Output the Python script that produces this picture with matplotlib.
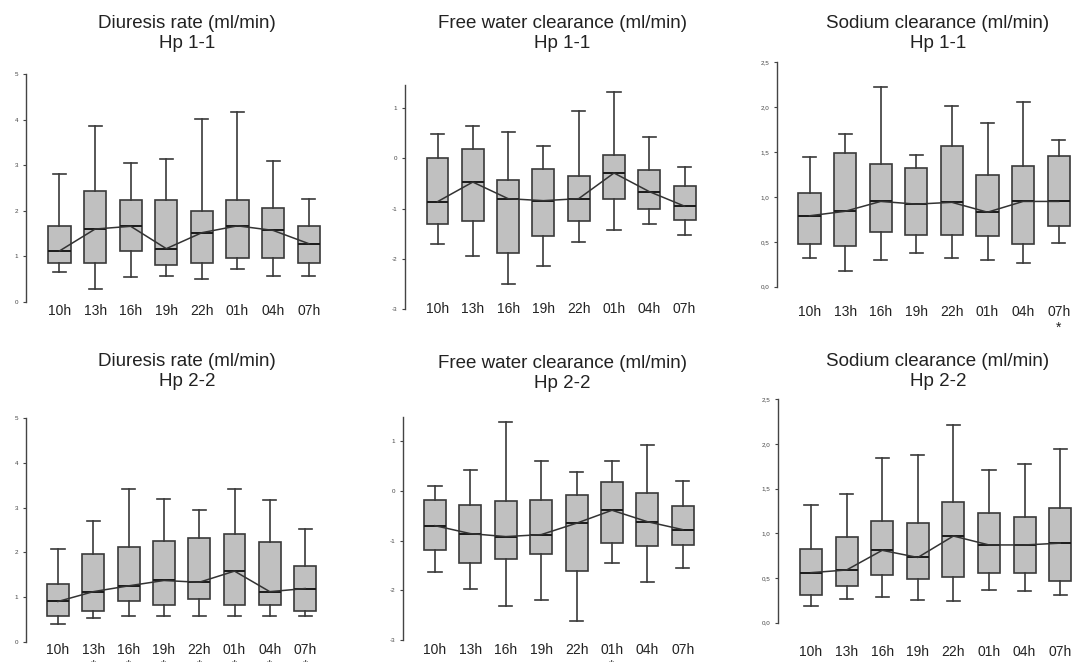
import numpy as np
import matplotlib.pyplot as plt

plt.rcParams['font.family'] = ['Liberation Sans', 'DejaVu Sans']

hours = ['10h', '13h', '16h', '19h', '22h', '01h', '04h', '07h']

# Diuresis rate, Hp 1-1
diu11_lo = [0.66, 0.29, 0.55, 0.57, 0.51, 0.72, 0.57, 0.57]
diu11_q1 = [0.86, 0.86, 1.12, 0.82, 0.86, 0.97, 0.97, 0.86]
diu11_med = [1.12, 1.60, 1.66, 1.17, 1.52, 1.67, 1.57, 1.28]
diu11_q3 = [1.67, 2.44, 2.23, 2.23, 1.99, 2.23, 2.06, 1.67]
diu11_hi = [2.80, 3.86, 3.05, 3.13, 4.01, 4.17, 3.10, 2.25]
diu11_sig = [0, 0, 0, 0, 0, 0, 0, 0]

# Free water clearance, Hp 1-1
fw11_lo = [-1.71, -1.95, -2.49, -2.13, -1.67, -1.43, -1.30, -1.53]
fw11_q1 = [-1.30, -1.25, -1.89, -1.55, -1.25, -0.80, -1.00, -1.23]
fw11_med = [-0.86, -0.47, -0.80, -0.84, -0.80, -0.29, -0.66, -0.95]
fw11_q3 = [0.01, 0.19, -0.42, -0.22, -0.34, 0.07, -0.24, -0.54]
fw11_hi = [0.48, 0.64, 0.53, 0.25, 0.94, 1.33, 0.43, -0.17]
fw11_sig = [0, 0, 0, 0, 0, 0, 0, 0]

# Sodium clearance, Hp 1-1
na11_lo = [0.32, 0.17, 0.30, 0.37, 0.32, 0.30, 0.26, 0.49]
na11_q1 = [0.475, 0.45, 0.61, 0.58, 0.58, 0.56, 0.475, 0.68]
na11_med = [0.79, 0.84, 0.95, 0.92, 0.94, 0.83, 0.95, 0.95]
na11_q3 = [1.04, 1.49, 1.37, 1.32, 1.57, 1.25, 1.35, 1.46]
na11_hi = [1.44, 1.70, 2.23, 1.47, 2.01, 1.82, 2.06, 1.63]
na11_sig = [0, 0, 0, 0, 0, 0, 0, 1]

# Diuresis rate, Hp 2-2
diu22_lo = [0.40, 0.54, 0.57, 0.57, 0.57, 0.57, 0.57, 0.57]
diu22_q1 = [0.57, 0.69, 0.92, 0.82, 0.95, 0.82, 0.82, 0.69]
diu22_med = [0.90, 1.12, 1.25, 1.37, 1.33, 1.58, 1.12, 1.19]
diu22_q3 = [1.29, 1.96, 2.11, 2.26, 2.33, 2.41, 2.24, 1.69]
diu22_hi = [2.07, 2.71, 3.41, 3.19, 2.95, 3.41, 3.17, 2.52]
diu22_sig = [0, 1, 1, 1, 1, 1, 1, 1]

# Free water clearance, Hp 2-2
fw22_lo = [-1.64, -1.97, -2.31, -2.19, -2.61, -1.46, -1.83, -1.55]
fw22_q1 = [-1.18, -1.45, -1.37, -1.27, -1.62, -1.04, -1.10, -1.08]
fw22_med = [-0.70, -0.86, -0.92, -0.88, -0.65, -0.39, -0.62, -0.78]
fw22_q3 = [-0.18, -0.28, -0.21, -0.18, -0.09, 0.17, -0.05, -0.30]
fw22_hi = [0.09, 0.41, 1.38, 0.60, 0.37, 0.60, 0.92, 0.19]
fw22_sig = [0, 0, 0, 0, 0, 1, 0, 0]

# Sodium clearance, Hp 2-2
na22_lo = [0.19, 0.26, 0.29, 0.25, 0.24, 0.37, 0.35, 0.31]
na22_q1 = [0.31, 0.41, 0.53, 0.49, 0.51, 0.56, 0.56, 0.47]
na22_med = [0.56, 0.59, 0.81, 0.73, 0.97, 0.87, 0.87, 0.89]
na22_q3 = [0.82, 0.96, 1.14, 1.12, 1.35, 1.23, 1.18, 1.28]
na22_hi = [1.32, 1.44, 1.84, 1.88, 2.21, 1.71, 1.78, 1.94]
na22_sig = [0, 0, 1, 1, 1, 1, 1, 1]

diu_ticks = [0, 1, 2, 3, 4, 5]
diu_ticklabels = ['0', '1', '2', '3', '4', '5']
fw_ticks = [-3, -2, -1, 0, 1]
fw_ticklabels = ['-3', '-2', '-1', '0', '1']
na_ticks = [0.0, 0.5, 1.0, 1.5, 2.0, 2.5]
na_ticklabels = ['0,0', '0,5', '1,0', '1,5', '2,0', '2,5']

W, H = 1078, 662
fig = plt.figure(figsize=(W / 100, H / 100), dpi=100)


def panel(spine_x, c0, step, ybot_px, ytop_px, ylim, label_pad,
          lo, q1, med, q3, hi, sig, ticks, ticklabels):
    right = c0 + 7 * step + 0.8 * step
    ax = fig.add_axes([spine_x / W, 1 - ybot_px / H,
                       (right - spine_x) / W, (ybot_px - ytop_px) / H])
    stats = []
    for i in range(len(hours)):
        stats.append(dict(whislo=lo[i], q1=q1[i], med=med[i],
                          q3=q3[i], whishi=hi[i], fliers=[]))
    pos = np.arange(len(hours))
    ax.bxp(stats, positions=pos, widths=0.62, capwidths=0.37,
           patch_artist=True, showfliers=False,
           boxprops=dict(facecolor='#c0c0c0', edgecolor='#3a3a3a', linewidth=1.2),
           whiskerprops=dict(color='#3a3a3a', linewidth=1.2),
           capprops=dict(color='#3a3a3a', linewidth=1.2),
           medianprops=dict(color='#1a1a1a', linewidth=1.4))
    ax.plot(pos, med, color='#333333', linewidth=1.1, zorder=5)
    ax.set_xlim((spine_x - c0) / step, (right - c0) / step)
    ax.set_ylim(*ylim)
    labels = [h + '\n*' if s else h for h, s in zip(hours, sig)]
    ax.set_xticks(pos, labels)
    ax.tick_params(axis='x', length=0, pad=label_pad, labelsize=10,
                   labelcolor='#222222')
    ax.set_yticks(ticks, ticklabels)
    ax.tick_params(axis='y', length=2.5, width=0.8, pad=3, labelsize=4.5,
                   labelcolor='#444444', color='#444444')
    for side in ['top', 'right', 'bottom']:
        ax.spines[side].set_visible(False)
    ax.spines['left'].set_color('#444444')
    ax.spines['left'].set_linewidth(1.0)
    ax.patch.set_alpha(0)
    return ax


panel(26, 59.5, 35.6, 302, 74, (0, 5), 1.4,
      diu11_lo, diu11_q1, diu11_med, diu11_q3, diu11_hi, diu11_sig,
      diu_ticks, diu_ticklabels)
panel(405, 437.5, 35.3, 309.3, 85, (-3, 1.46), -5.5,
      fw11_lo, fw11_q1, fw11_med, fw11_q3, fw11_hi, fw11_sig,
      fw_ticks, fw_ticklabels)
panel(777, 809.5, 35.6, 286.7, 62.3, (0, 2.5), 13,
      na11_lo, na11_q1, na11_med, na11_q3, na11_hi, na11_sig,
      na_ticks, na_ticklabels)
panel(26, 58, 35.3, 641.7, 418.3, (0, 5), 0.7,
      diu22_lo, diu22_q1, diu22_med, diu22_q3, diu22_hi, diu22_sig,
      diu_ticks, diu_ticklabels)
panel(403, 435, 35.4, 640, 417.3, (-3, 1.48), 2,
      fw22_lo, fw22_q1, fw22_med, fw22_q3, fw22_hi, fw22_sig,
      fw_ticks, fw_ticklabels)
panel(778, 811, 35.6, 622.7, 399.3, (0, 2.5), 16,
      na22_lo, na22_q1, na22_med, na22_q3, na22_hi, na22_sig,
      na_ticks, na_ticklabels)

# titles
titles = [(187, 23, 'Diuresis rate (ml/min)', 'Hp 1-1'),
          (562, 23, 'Free water clearance (ml/min)', 'Hp 1-1'),
          (938, 23, 'Sodium clearance (ml/min)', 'Hp 1-1'),
          (187, 362, 'Diuresis rate (ml/min)', 'Hp 2-2'),
          (562, 363, 'Free water clearance (ml/min)', 'Hp 2-2'),
          (938, 362, 'Sodium clearance (ml/min)', 'Hp 2-2')]
for x, y, t1, t2 in titles:
    fig.text(x / W, 1 - y / H, t1, ha='center', va='center', fontsize=13.5,
             color='#222222')
    fig.text(x / W, 1 - (y + 20) / H, t2, ha='center', va='center',
             fontsize=13.5, color='#222222')

fig.savefig('out.png', dpi=100)
